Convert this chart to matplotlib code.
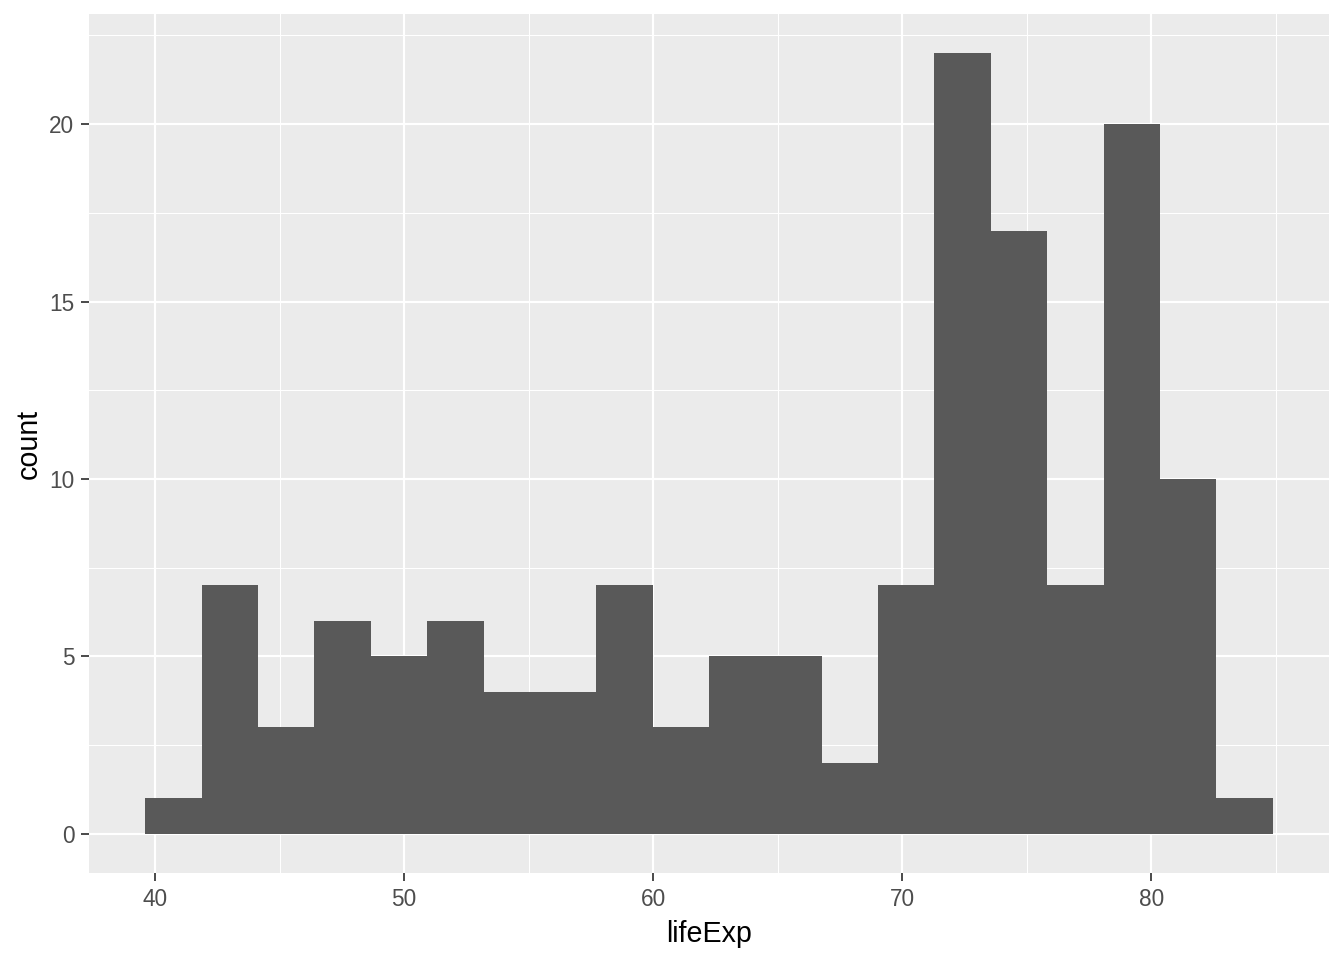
import numpy as np
import matplotlib
matplotlib.use("Agg")
import matplotlib.pyplot as plt
from matplotlib.ticker import MultipleLocator

plt.rcParams['font.family'] = ['Liberation Sans', 'DejaVu Sans']

# gapminder 2007 life expectancy, 20 bins
bin_start = 39.613
bin_width = 2.2626
counts = [1, 7, 3, 6, 5, 6, 4, 4, 7, 3, 5, 5, 2, 7, 22, 17, 7, 20, 10, 1]
x_ticks = [40, 50, 60, 70, 80]
y_ticks = [0, 5, 10, 15, 20]

edges = bin_start + bin_width * np.arange(len(counts) + 1)

fig = plt.figure(figsize=(14, 10), dpi=96)
ax = fig.add_axes([89 / 1344, 1 - 873 / 960, (1329 - 89) / 1344, (873 - 14) / 960])
ax.set_facecolor('#EBEBEB')

ax.bar(edges[:-1], counts, width=bin_width, align='edge', color='#595959', linewidth=0, zorder=3)

span = edges[-1] - edges[0]
ax.set_xlim(edges[0] - 0.05 * span, edges[-1] + 0.05 * span)
ax.set_ylim(-0.05 * max(counts), max(counts) * 1.05)

ax.set_xticks(x_ticks)
ax.set_yticks(y_ticks)
ax.xaxis.set_minor_locator(MultipleLocator(5))
ax.yaxis.set_minor_locator(MultipleLocator(2.5))
ax.grid(which='major', color='white', linewidth=1.6, zorder=1)
ax.grid(which='minor', color='white', linewidth=0.8, zorder=1)
ax.set_axisbelow(True)

for s in ax.spines.values():
    s.set_visible(False)

ax.tick_params(which='major', length=6, width=1.3, color='#333333', labelcolor='#4D4D4D',
               labelsize=17, pad=5)
ax.tick_params(which='minor', length=0)

ax.set_xlabel('lifeExp', fontsize=21.5, color='black', labelpad=7)
ax.set_ylabel('count', fontsize=21.5, color='black', labelpad=5)

fig.savefig('out.png', dpi=96)
